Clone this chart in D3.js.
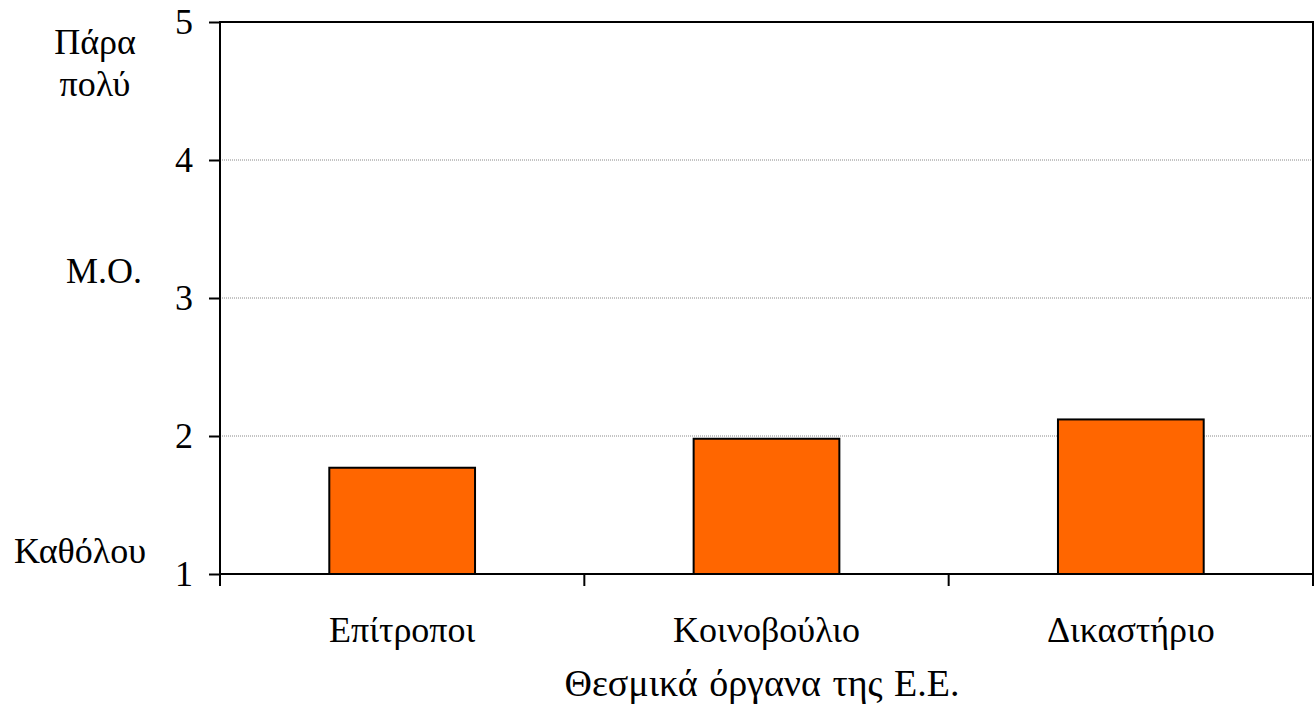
<!DOCTYPE html>
<html><head><meta charset="utf-8">
<script src="https://cdn.jsdelivr.net/npm/d3@7"></script>
<style>
html,body{margin:0;padding:0;background:#fff;}
svg text{font-family:"Liberation Serif","Times New Roman","DejaVu Serif",serif !important;fill:#000;font-size:36px;}
</style></head>
<body><svg id="c" width="1314" height="709"></svg>
<script>
const categories = ["Επίτροποι", "Κοινοβούλιο", "Δικαστήριο"];
const values = [1.77, 1.98, 2.12];
const yTicks = [1, 2, 3, 4, 5];
const scaleLabels = ["Πάρα πολύ", "Μ.Ο.", "Καθόλου"];
const scaleLabelValues = [5, 3, 1];
const xTitle = "Θεσμικά όργανα της Ε.Ε.";

const svg = d3.select("#c");
const L = 220, R = 1313, T = 22, B = 574;
const x = d3.scaleBand().domain(categories).range([L, R]).paddingInner(0.6).paddingOuter(0.3);
const xb = d3.scaleBand().domain(categories).range([L, R]);
const y = d3.scaleLinear().domain([1, 5]).range([B, T]);

// gridlines
svg.append("g").selectAll("line").data(yTicks.filter(d => d > 1 && d < 5)).join("line")
  .attr("x1", L).attr("x2", R).attr("y1", d => y(d)).attr("y2", d => y(d))
  .attr("stroke", "#888").attr("stroke-width", 1).attr("stroke-dasharray", "1,1");

// bars
svg.append("g").selectAll("rect").data(categories).join("rect")
  .attr("x", d => x(d)).attr("width", x.bandwidth())
  .attr("y", (d, i) => y(values[i])).attr("height", (d, i) => B - y(values[i]))
  .attr("fill", "#ff6600").attr("stroke", "#000").attr("stroke-width", 2);

// frame
svg.append("rect").attr("x", L).attr("y", T).attr("width", R - L).attr("height", B - T)
  .attr("fill", "none").attr("stroke", "#000").attr("stroke-width", 2);

// y axis
const ya = svg.append("g").attr("transform", `translate(${L},0)`)
  .call(d3.axisLeft(y).tickValues(yTicks).tickFormat(d3.format("d")).tickSize(11).tickPadding(16));
ya.attr("font-family", null).attr("font-size", null);
ya.select(".domain").remove();
ya.selectAll("line").attr("stroke", "#000").attr("stroke-width", 2);
ya.selectAll("text").attr("dy", "0.33em");

// x axis ticks at band boundaries
const bounds = categories.map(c => xb(c)).concat([R]);
svg.append("g").selectAll("line").data(bounds).join("line")
  .attr("x1", d => d).attr("x2", d => d).attr("y1", B).attr("y2", B + 12)
  .attr("stroke", "#000").attr("stroke-width", 2);

svg.append("g").selectAll("text").data(categories).join("text")
  .attr("x", d => xb(d) + xb.bandwidth() / 2).attr("y", 642)
  .attr("text-anchor", "middle").text(d => d);

svg.append("text").attr("x", 762).attr("y", 696).attr("text-anchor", "middle")
  .style("font-size", "38px").style("word-spacing", "2px").text(xTitle);

// descriptive scale labels
const labelPos = [{cx: 95, dy: 32}, {cx: 104, dy: -15}, {cx: 80, dy: -11}];
scaleLabels.forEach((lab, i) => {
  const words = i === 0 ? lab.split(" ") : [lab];
  words.forEach((w, j) => svg.append("text").attr("text-anchor", "middle")
    .attr("x", labelPos[i].cx).attr("y", y(scaleLabelValues[i]) + labelPos[i].dy + j * 42).text(w));
});
</script></body></html>
